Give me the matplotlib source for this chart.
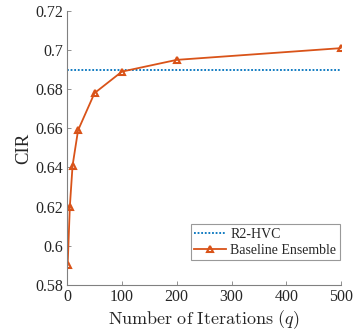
import matplotlib
matplotlib.use("Agg")
import matplotlib.pyplot as plt
from matplotlib.ticker import FuncFormatter

# Data
iterations = [1, 5, 10, 20, 50, 100, 200, 500]
cir_baseline = [0.590, 0.620, 0.641, 0.659, 0.678, 0.689, 0.695, 0.701]
cir_r2hvc = 0.690
x_ticks = [0, 100, 200, 300, 400, 500]
y_ticks = [0.58, 0.60, 0.62, 0.64, 0.66, 0.68, 0.70, 0.72]

plt.rcParams["font.family"] = ["Liberation Serif", "DejaVu Serif"]
plt.rcParams["mathtext.fontset"] = "cm"

fig = plt.figure(figsize=(3.55, 3.32), dpi=100)
ax = fig.add_axes([0.189, 0.142, 0.772, 0.825])

blue = "#0072BD"
orange = "#D95319"
axis_gray = "#808080"
text_gray = "#262626"

ax.plot([0, 500], [cir_r2hvc, cir_r2hvc], linestyle=(0, (1, 1)), color=blue,
        linewidth=1.3, label="R2-HVC")
ax.plot(iterations, cir_baseline, color=orange, linewidth=1.3, marker="^",
        markersize=5, markerfacecolor="none", markeredgewidth=1.5,
        label="Baseline Ensemble")

ax.set_xlim(0, 500)
ax.set_ylim(0.58, 0.72)
ax.set_xticks(x_ticks)
ax.set_yticks(y_ticks)
ax.yaxis.set_major_formatter(FuncFormatter(lambda v, p: f"{v:g}"))

for side in ("top", "right"):
    ax.spines[side].set_visible(False)
for side in ("left", "bottom"):
    ax.spines[side].set_color(axis_gray)
    ax.spines[side].set_linewidth(0.8)

ax.tick_params(direction="in", length=3, width=0.6, colors=axis_gray,
               labelcolor=text_gray, labelsize=11.5, pad=3)

ax.set_xlabel(r"$\mathrm{Number\ of\ Iterations}\ (q)$", fontsize=13,
              color=text_gray, labelpad=2)
ax.set_ylabel("CIR", fontsize=13.5, color=text_gray, labelpad=2)

leg = ax.legend(loc="lower right", bbox_to_anchor=(0.995, 0.09), fontsize=10,
                frameon=True, fancybox=False, edgecolor=axis_gray,
                borderpad=0.25, handlelength=2.3, handletextpad=0.3,
                labelspacing=0.2, borderaxespad=0)
leg.get_frame().set_linewidth(0.8)
for t in leg.get_texts():
    t.set_color(text_gray)

fig.savefig("out.png", dpi=100)
